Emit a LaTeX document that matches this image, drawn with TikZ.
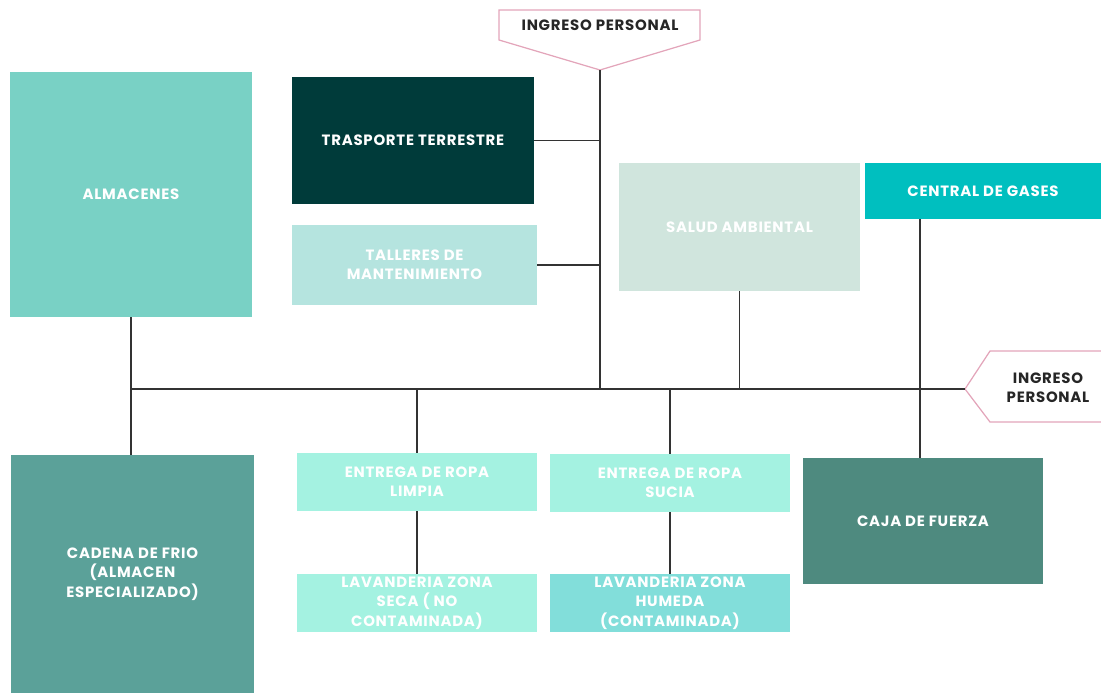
\documentclass[tikz,border=0pt]{standalone}
\usepackage{fontspec}
\setmainfont{Poppins}[LetterSpace=5]
\usetikzlibrary{positioning}
\definecolor{almacen}{HTML}{79D1C5}
\definecolor{trasporte}{HTML}{003B3A}
\definecolor{taller}{HTML}{B5E4DF}
\definecolor{salud}{HTML}{D0E5DD}
\definecolor{gases}{HTML}{00BFBF}
\definecolor{frio}{HTML}{5BA199}
\definecolor{ropa}{HTML}{A4F2E1}
\definecolor{humeda}{HTML}{82DEDA}
\definecolor{fuerza}{HTML}{4E8A7F}
\definecolor{ingreso}{HTML}{E3A5BA}
\definecolor{linea}{HTML}{333333}
\tikzset{
  area/.style={fill=#1,text=white,font=\fontsize{8.5}{11}\selectfont\bfseries,align=center,inner sep=0pt},
  enlace/.style={linea,line width=0.9pt},
  flecha/.style={ingreso,line width=0.7pt,fill=white}
}

\begin{document}
\begin{tikzpicture}[x=0.02cm,y=-0.02cm]
  \useasboundingbox (0,0) rectangle (1101,693);

  % areas de arriba
  \node[area=almacen,minimum width=4.84cm,minimum height=4.9cm] (almacenes) at (131,194.5) {ALMACENES};
  \node[area=trasporte,minimum width=4.84cm,minimum height=2.54cm] (trasporte) at (413,140.5) {TRASPORTE TERRESTRE};
  \node[area=taller,minimum width=4.9cm,minimum height=1.6cm] (talleres) at (414.5,265) {TALLERES DE\\MANTENIMIENTO};
  \node[area=salud,minimum width=4.82cm,minimum height=2.56cm] (salud) at (739.5,227) {SALUD AMBIENTAL};
  \node[area=gases,minimum width=4.72cm,minimum height=1.12cm] (gases) at (983,191) {CENTRAL DE GASES};

  % areas de abajo
  \node[area=frio,minimum width=4.86cm,minimum height=4.76cm] (cadena) at (132.5,574) {CADENA DE FRIO\\(ALMACEN\\ESPECIALIZADO)};
  \node[area=ropa,minimum width=4.8cm,minimum height=1.16cm] (limpia) at (417,482) {ENTREGA DE ROPA\\LIMPIA};
  \node[area=ropa,minimum width=4.8cm,minimum height=1.16cm] (sucia) at (670,483) {ENTREGA DE ROPA\\SUCIA};
  \node[area=ropa,minimum width=4.8cm,minimum height=1.16cm] (seca) at (417,603) {LAVANDERIA ZONA\\SECA ( NO\\CONTAMINADA)};
  \node[area=humeda,minimum width=4.8cm,minimum height=1.16cm] (humeda) at (670,603) {LAVANDERIA ZONA\\HUMEDA\\(CONTAMINADA)};
  \node[area=fuerza,minimum width=4.8cm,minimum height=2.52cm] (caja) at (923,521) {CAJA DE FUERZA};

  % ingresos
  \draw[flecha] (499,10) -- (700,10) -- (700,40) -- (600,70) -- (499,40) -- cycle;
  \coordinate (ingtop) at (600,70);
  \node[font=\fontsize{8.5}{11}\selectfont\bfseries,text=black!85] (ingtoptxt) at (600,25) {INGRESO PERSONAL};
  \draw[flecha] (1110,351) -- (990,351) -- (965,389) -- (990,422) -- (1110,422);
  \coordinate (ingder) at (965,389);
  \node[font=\fontsize{8.5}{11}\selectfont\bfseries,text=black!85,align=center] (ingdertxt) at (1048,388) {INGRESO\\PERSONAL};

  % lineas
  \coordinate (bus) at (132,389);
  \draw[enlace] (ingtop) -- (ingtop |- bus);
  \draw[enlace] (trasporte.east) -- (trasporte.east -| ingtop);
  \draw[enlace] (talleres.east) -- (talleres.east -| ingtop);
  \draw[enlace] (bus) -- (ingder);
  \draw[enlace] (almacenes.south) -- (almacenes.south |- cadena.north);
  \draw[enlace] (salud.south) -- (salud.south |- bus);
  \draw[enlace] (caja.north -| 920,0) -- (gases.south -| 920,0);
  \draw[enlace] (bus -| limpia.north) -- (limpia.north);
  \draw[enlace] (bus -| sucia.north) -- (sucia.north);
  \draw[enlace] (limpia.south) -- (seca.north);
  \draw[enlace] (sucia.south) -- (humeda.north);
\end{tikzpicture}
\end{document}
